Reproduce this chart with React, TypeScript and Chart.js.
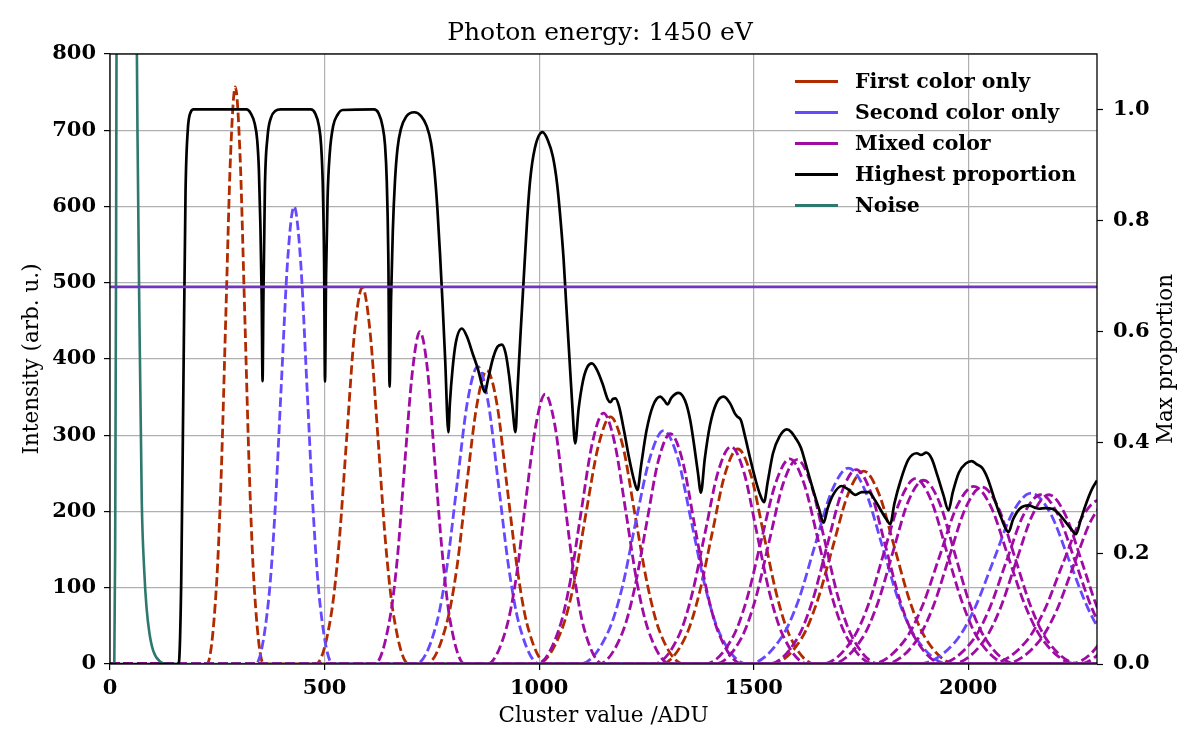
import React, { useEffect, useRef } from 'react';
import Chart from 'chart.js/auto';

const TITLE = 'Photon energy: 1450 eV';
const X_LABEL = 'Cluster value /ADU';
const Y_LABEL = 'Intensity (arb. u.)';
const Y2_LABEL = 'Max proportion';
const X_MAX = 2300;
const Y_MAX = 800;
const Y2_MAX = 1.1;
const xTickValues = [0, 500, 1000, 1500, 2000];
const yTickValues = [0, 100, 200, 300, 400, 500, 600, 700, 800];
const y2TickValues = [0, 0.2, 0.4, 0.6, 0.8, 1.0];
const legendLabels = ['First color only', 'Second color only', 'Mixed color', 'Highest proportion', 'Noise'];
const THRESHOLD = 0.68;

// First color only peaks (x, y)
const firstColorX = [
  [226, 248, 259, 270, 281, 292, 303, 314, 325, 336, 358],
  [480, 516, 534, 552, 570, 588, 606, 624, 642, 660, 696],
  [737, 784, 808, 831, 855, 878, 902, 925, 949, 972, 1019],
  [995, 1052, 1081, 1109, 1138, 1166, 1195, 1223, 1252, 1280, 1337],
  [1283, 1343, 1373, 1403, 1433, 1463, 1493, 1523, 1553, 1583, 1643],
  [1540, 1612, 1648, 1684, 1720, 1756, 1792, 1828, 1864, 1900, 1972],
];
const firstColorY = [
  [0, 102, 246, 459, 668, 757, 668, 459, 246, 102, 0],
  [0, 67, 160, 300, 436, 494, 436, 300, 160, 67, 0],
  [0, 52, 125, 234, 340, 385, 340, 234, 125, 52, 0],
  [0, 44, 105, 197, 286, 324, 286, 197, 105, 44, 0],
  [0, 38, 92, 171, 249, 282, 249, 171, 92, 38, 0],
  [0, 34, 82, 153, 223, 253, 223, 153, 82, 34, 0],
];

// Second color only peaks
const secondColorX = [
  [339, 369, 384, 399, 414, 429, 444, 459, 474, 489, 519],
  [713, 761, 785, 809, 833, 857, 881, 905, 929, 953, 1001],
  [1095, 1160, 1193, 1225, 1258, 1290, 1323, 1355, 1388, 1420, 1485],
  [1487, 1565, 1604, 1643, 1682, 1721, 1760, 1799, 1838, 1877, 1955],
  [1883, 1971, 2015, 2059, 2103, 2147, 2191, 2235, 2279, 2323, 2411],
];
const secondColorY = [
  [0, 81, 195, 364, 530, 600, 530, 364, 195, 81, 0],
  [0, 53, 127, 237, 344, 390, 344, 237, 127, 53, 0],
  [0, 41, 99, 186, 270, 306, 270, 186, 99, 41, 0],
  [0, 35, 83, 156, 227, 257, 227, 156, 83, 35, 0],
  [0, 30, 73, 136, 198, 224, 198, 136, 73, 30, 0],
];

// Mixed color peaks
const mixedX = [
  [617, 652, 670, 687, 705, 722, 740, 757, 775, 792, 827],
  [879, 924, 947, 969, 992, 1014, 1037, 1059, 1082, 1104, 1149],
  [994, 1046, 1072, 1098, 1124, 1150, 1176, 1202, 1228, 1254, 1306],
  [1138, 1194, 1222, 1250, 1278, 1306, 1334, 1362, 1390, 1418, 1474],
  [1267, 1327, 1357, 1387, 1417, 1447, 1477, 1507, 1537, 1567, 1627],
  [1386, 1452, 1485, 1518, 1551, 1584, 1617, 1650, 1683, 1716, 1782],
  [1409, 1473, 1505, 1537, 1569, 1601, 1633, 1665, 1697, 1729, 1793],
  [1535, 1603, 1637, 1671, 1705, 1739, 1773, 1807, 1841, 1875, 1943],
  [1658, 1731, 1768, 1804, 1841, 1877, 1914, 1950, 1987, 2023, 2096],
  [1680, 1752, 1788, 1824, 1860, 1896, 1932, 1968, 2004, 2040, 2112],
  [1773, 1853, 1893, 1933, 1973, 2013, 2053, 2093, 2133, 2173, 2253],
  [1804, 1880, 1918, 1956, 1994, 2032, 2070, 2108, 2146, 2184, 2260],
  [1929, 2009, 2049, 2089, 2129, 2169, 2209, 2249, 2289, 2329, 2409],
  [1960, 2036, 2074, 2112, 2150, 2188, 2226, 2264, 2302, 2340, 2416],
  [2048, 2134, 2177, 2220, 2263, 2306, 2349, 2392, 2435, 2478, 2564],
  [2082, 2164, 2205, 2246, 2287, 2328, 2369, 2410, 2451, 2492, 2574],
  [2233, 2303, 2338, 2373, 2408, 2443, 2478, 2513, 2548, 2583, 2653],
  [2258, 2326, 2360, 2394, 2428, 2462, 2496, 2530, 2564, 2598, 2666],
];
const mixedY = [
  [0, 59, 141, 264, 385, 436, 385, 264, 141, 59, 0],
  [0, 48, 115, 215, 312, 354, 312, 215, 115, 48, 0],
  [0, 45, 107, 200, 290, 329, 290, 200, 107, 45, 0],
  [0, 41, 98, 183, 267, 302, 267, 183, 98, 41, 0],
  [0, 39, 93, 173, 252, 285, 252, 173, 93, 39, 0],
  [0, 36, 87, 163, 237, 269, 237, 163, 87, 36, 0],
  [0, 36, 87, 163, 237, 268, 237, 163, 87, 36, 0],
  [0, 35, 83, 155, 225, 255, 225, 155, 83, 35, 0],
  [0, 33, 79, 147, 214, 243, 214, 147, 79, 33, 0],
  [0, 33, 78, 146, 213, 241, 213, 146, 78, 33, 0],
  [0, 32, 76, 141, 206, 233, 206, 141, 76, 32, 0],
  [0, 31, 75, 141, 205, 232, 205, 141, 75, 31, 0],
  [0, 30, 72, 135, 196, 222, 196, 135, 72, 30, 0],
  [0, 30, 72, 135, 196, 222, 196, 135, 72, 30, 0],
  [0, 29, 70, 131, 190, 215, 190, 131, 70, 29, 0],
  [0, 29, 69, 130, 189, 214, 189, 130, 69, 29, 0],
  [0, 25, 67, 125, 181, 205, 181, 125, 67, 25, 0],
  [0, 28, 66, 124, 181, 205, 181, 124, 66, 28, 0],
];

// Noise curve
const noiseX = [0, 10, 12, 14, 16, 40, 60, 64, 68, 74, 80, 85, 92, 101, 117, 135, 2300];
const noiseY = [0, 0, 150, 500, 1000, 3000, 1000, 700, 480, 215, 120, 75, 40, 17, 3, 0, 0];

// Highest proportion (right axis)
const proportionX = [
  0, 160, 166, 171, 176, 181, 188, 195,
  318, 328, 337, 343, 347, 350.5, 353.5, 355.5, 357.5, 361, 367, 375, 385, 398,
  468, 478, 487, 492, 496, 499, 501, 503.5, 507, 512, 520, 530, 542,
  615, 626, 635, 641, 645, 648.5, 651.5, 655, 659, 664, 670, 678, 690, 709, 725, 738, 748, 756, 763, 769, 775, 781, 788.5,
  792, 798, 806, 820, 832, 845, 858, 868, 874, 880, 892, 903, 913, 922, 930, 937, 945,
  950, 957, 963, 972, 979, 990, 1008, 1020, 1032, 1042, 1050, 1057, 1063, 1070, 1077, 1084,
  1092, 1102, 1112, 1123, 1135, 1148, 1160, 1166, 1172, 1178, 1186, 1198, 1210, 1220, 1229,
  1238, 1250, 1265, 1282, 1292, 1299, 1308, 1325, 1340, 1352, 1362, 1370, 1377,
  1386, 1398, 1413, 1430, 1445, 1456, 1462, 1470, 1480, 1492, 1505, 1515, 1524,
  1533, 1545, 1560, 1577, 1588, 1597, 1610, 1625, 1640, 1652, 1663,
  1672, 1685, 1705, 1720, 1737, 1752, 1768, 1783, 1798, 1810, 1818,
  1828, 1842, 1860, 1880, 1890, 1902, 1915, 1928, 1942, 1954,
  1964, 1978, 1995, 2008, 2020, 2032, 2045, 2060, 2076, 2094,
  2104, 2120, 2141, 2155, 2165, 2180, 2195, 2210, 2225, 2240, 2251,
  2262, 2275, 2288, 2300,
];
const proportionY = [
  0, 0, 0.15, 0.5, 0.85, 0.96, 0.995, 1.0,
  1.0, 0.993, 0.975, 0.945, 0.89, 0.79, 0.66, 0.51, 0.66, 0.86, 0.95, 0.985, 0.997, 1.0,
  1.0, 0.993, 0.97, 0.935, 0.86, 0.72, 0.509, 0.7, 0.84, 0.92, 0.97, 0.99, 0.999,
  1.0, 0.993, 0.97, 0.935, 0.87, 0.74, 0.5, 0.66, 0.78, 0.87, 0.93, 0.965, 0.987, 0.995, 0.988, 0.97, 0.94, 0.89, 0.82, 0.74, 0.65, 0.55, 0.418,
  0.47, 0.53, 0.58, 0.605, 0.59, 0.56, 0.53, 0.5, 0.49, 0.51, 0.55, 0.572, 0.576, 0.56, 0.52, 0.47, 0.418,
  0.5, 0.6, 0.68, 0.8, 0.872, 0.93, 0.959, 0.945, 0.915, 0.865, 0.8, 0.73, 0.65, 0.56, 0.47, 0.398,
  0.46, 0.51, 0.535, 0.542, 0.53, 0.505, 0.477, 0.472, 0.478, 0.479, 0.465, 0.42, 0.37, 0.335, 0.314,
  0.36, 0.42, 0.465, 0.482, 0.475, 0.468, 0.48, 0.489, 0.475, 0.44, 0.39, 0.345, 0.309,
  0.37, 0.43, 0.47, 0.482, 0.47, 0.452, 0.446, 0.44, 0.41, 0.37, 0.33, 0.305, 0.292,
  0.33, 0.38, 0.41, 0.423, 0.418, 0.408, 0.39, 0.35, 0.31, 0.28, 0.255,
  0.28, 0.305, 0.321, 0.315, 0.305, 0.31, 0.31, 0.295, 0.275, 0.26, 0.252,
  0.29, 0.33, 0.368, 0.38, 0.377, 0.381, 0.37, 0.34, 0.305, 0.277,
  0.31, 0.345, 0.362, 0.366, 0.36, 0.354, 0.335, 0.3, 0.265, 0.238,
  0.26, 0.28, 0.286, 0.282, 0.28, 0.281, 0.28, 0.272, 0.258, 0.243, 0.234,
  0.26, 0.29, 0.315, 0.331,
];

const COLORS = {
  first: '#b02c00',
  second: '#6648ff',
  mixed: '#a00aa5',
  proportion: '#000000',
  noise: '#2e786e',
  threshold: '#7035be',
};
const legendColors = [COLORS.first, COLORS.second, COLORS.mixed, COLORS.proportion, COLORS.noise];

const FONT = "'DejaVu Serif', serif";
const LABEL_SIZE = 21.5;

function toPoints(xs: number[], ys: number[]) {
  const pts = xs.map((x, i) => ({ x, y: ys[i] }));
  const out = [] as { x: number; y: number }[];
  if (xs[0] > 0) out.push({ x: 0, y: 0 });
  out.push(...pts);
  if (xs[xs.length - 1] < X_MAX) out.push({ x: X_MAX, y: 0 });
  return out;
}

function dashed(xs: number[][], ys: number[][], color: string, order: number) {
  return xs.map((x, i) => ({
    data: toPoints(x, ys[i]),
    borderColor: color,
    borderWidth: 2.8,
    borderDash: [9.5, 4],
    pointRadius: 0,
    cubicInterpolationMode: 'monotone' as const,
    yAxisID: 'y',
    order,
  }));
}

const framePlugin = {
  id: 'frame',
  afterDatasetsDraw(chart: any) {
    const { ctx, chartArea } = chart;
    ctx.save();
    ctx.strokeStyle = '#000';
    ctx.lineWidth = 1.3;
    ctx.strokeRect(chartArea.left, chartArea.top, chartArea.right - chartArea.left, chartArea.bottom - chartArea.top);
    ctx.restore();
  },
  afterDraw(chart: any) {
    const { ctx, chartArea } = chart;
    ctx.save();
    ctx.font = `${LABEL_SIZE}px ${FONT}`;
    ctx.fillStyle = '#000';
    ctx.textAlign = 'center';
    ctx.textBaseline = 'middle';
    ctx.translate(1166, (chartArea.top + chartArea.bottom) / 2);
    ctx.rotate(-Math.PI / 2);
    ctx.fillText(Y2_LABEL, 0, 0);
    ctx.restore();
  },
};

export default function App() {
  const ref = useRef<HTMLCanvasElement | null>(null);
  useEffect(() => {
    document.body.style.margin = '0';
    const canvas = ref.current;
    if (!canvas) return;
    const datasets: any[] = [
      ...dashed(firstColorX, firstColorY, COLORS.first, 5),
      ...dashed(secondColorX, secondColorY, COLORS.second, 4),
      ...dashed(mixedX, mixedY, COLORS.mixed, 3),
      {
        data: toPoints(noiseX, noiseY),
        borderColor: COLORS.noise,
        borderWidth: 2.6,
        pointRadius: 0,
        cubicInterpolationMode: 'monotone',
        yAxisID: 'y',
        order: 2,
      },
      {
        data: proportionX.map((x, i) => ({ x, y: proportionY[i] })),
        borderColor: COLORS.proportion,
        borderWidth: 2.7,
        pointRadius: 0,
        cubicInterpolationMode: 'monotone',
        yAxisID: 'y2',
        order: 1,
      },
      {
        data: [{ x: 0, y: THRESHOLD }, { x: X_MAX, y: THRESHOLD }],
        borderColor: COLORS.threshold,
        borderWidth: 2.8,
        pointRadius: 0,
        yAxisID: 'y2',
        order: 0,
      },
    ];
    const tickFont = { family: FONT, size: 21, weight: 'bold' as const };
    const chart = new Chart(canvas, {
      type: 'line',
      data: { datasets },
      plugins: [framePlugin],
      options: {
        animation: false,
        responsive: false,
        events: [],
        layout: { padding: 0 },
        plugins: {
          legend: { display: false },
          tooltip: { enabled: false },
          title: {
            display: true,
            text: TITLE,
            color: '#000',
            font: { family: FONT, size: 25, weight: 'normal' },
            padding: { top: 18, bottom: 6 },
          },
        },
        scales: {
          x: {
            type: 'linear',
            min: 0,
            max: X_MAX,
            afterFit: (s: any) => { s.height = 86; },
            afterBuildTicks: (s: any) => { s.ticks = xTickValues.map((v) => ({ value: v })); },
            ticks: {
              color: '#000',
              font: tickFont,
              padding: 6,
              maxRotation: 0,
              callback: (v: any) => String(v),
            },
            grid: { color: '#b0b0b0', lineWidth: 1.2, tickColor: '#000', tickLength: 6, tickWidth: 1.2 },
            border: { display: false },
            title: {
              display: true,
              text: X_LABEL,
              color: '#000',
              font: { family: FONT, size: LABEL_SIZE, weight: 'normal' },
              padding: { top: 0, bottom: 21 },
            },
          },
          y: {
            type: 'linear',
            position: 'left',
            min: 0,
            max: Y_MAX,
            afterFit: (s: any) => { s.width = 110; },
            afterBuildTicks: (s: any) => { s.ticks = yTickValues.map((v) => ({ value: v })); },
            ticks: { color: '#000', font: tickFont, padding: 8, callback: (v: any) => String(v) },
            grid: { color: '#b0b0b0', lineWidth: 1.2, tickColor: '#000', tickLength: 6, tickWidth: 1.2 },
            border: { display: false },
            title: {
              display: true,
              text: Y_LABEL,
              color: '#000',
              font: { family: FONT, size: LABEL_SIZE, weight: 'normal' },
              padding: { top: 20, bottom: 0 },
            },
          },
          y2: {
            type: 'linear',
            position: 'right',
            min: 0,
            max: Y2_MAX,
            afterFit: (s: any) => { s.width = 103; },
            afterBuildTicks: (s: any) => { s.ticks = y2TickValues.map((v) => ({ value: v })); },
            ticks: { color: '#000', font: tickFont, padding: 10, callback: (v: any) => Number(v).toFixed(1) },
            grid: { drawOnChartArea: false, tickColor: '#000', tickLength: 6, tickWidth: 1.2 },
            border: { display: false },
          },
        },
      } as any,
    });
    return () => chart.destroy();
  }, []);

  const legendYs = [81, 112, 143, 174, 205];
  return (
    <div style={{ position: 'relative', width: 1200, height: 750, background: '#fff' }}>
      <canvas ref={ref} width={1200} height={750} style={{ display: 'block', width: 1200, height: 750 }} />
      {legendLabels.map((label, i) => (
        <div key={label}>
          <div
            style={{
              position: 'absolute',
              left: 795,
              top: legendYs[i] - 1.5,
              width: 43,
              height: 3,
              background: legendColors[i],
            }}
          />
          <div
            style={{
              position: 'absolute',
              left: 855,
              top: legendYs[i] - 12,
              lineHeight: '24px',
              fontFamily: FONT,
              fontWeight: 'bold',
              fontSize: 20.5,
              color: '#000',
              whiteSpace: 'nowrap',
            }}
          >
            {label}
          </div>
        </div>
      ))}
    </div>
  );
}
